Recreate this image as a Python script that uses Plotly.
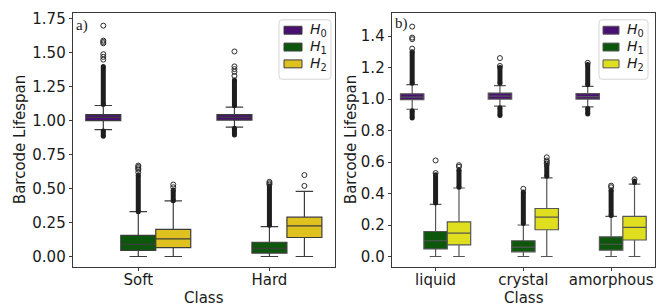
import plotly.graph_objects as go

W, H = 667, 306

# ---------------- data ----------------
series = ["H0", "H1", "H2"]
series_labels = ["<i>H</i><sub>0</sub>", "<i>H</i><sub>1</sub>", "<i>H</i><sub>2</sub>"]

# Panel a)
cats_a = ["Soft", "Hard"]
q1_a = {"H0": [1.000, 1.005], "H1": [0.045, 0.025], "H2": [0.065, 0.140]}
med_a = {"H0": [1.025, 1.025], "H1": [0.090, 0.060], "H2": [0.130, 0.225]}
q3_a = {"H0": [1.045, 1.045], "H1": [0.155, 0.105], "H2": [0.200, 0.290]}
lo_a = {"H0": [0.935, 0.953], "H1": [0.0, 0.0], "H2": [0.0, 0.0]}
hi_a = {"H0": [1.112, 1.100], "H1": [0.330, 0.220], "H2": [0.410, 0.480]}
# dense outlier bands (start, end); None = absent
dense_low_a = {"H0": [(0.885, 0.925), (0.895, 0.945)], "H1": [None, None], "H2": [None, None]}
dense_high_a = {"H0": [(1.12, 1.40), (1.11, 1.30)], "H1": [(0.33, 0.60), (0.23, 0.52)],
                "H2": [(0.41, 0.49), None]}
sparse_a = {"H0": [[1.45, 1.47, 1.49, 1.57, 1.58, 1.59, 1.70], [1.33, 1.36, 1.38, 1.40, 1.51]],
            "H1": [[0.62, 0.64, 0.65, 0.66, 0.67], [0.53, 0.54, 0.55]],
            "H2": [[0.51, 0.53], [0.52, 0.60]]}

# Panel b)
cats_b = ["liquid", "crystal", "amorphous"]
q1_b = {"H0": [0.996, 1.000, 1.000], "H1": [0.048, 0.030, 0.040], "H2": [0.074, 0.170, 0.105]}
med_b = {"H0": [1.012, 1.018, 1.015], "H1": [0.100, 0.060, 0.078], "H2": [0.149, 0.250, 0.185]}
q3_b = {"H0": [1.033, 1.038, 1.035], "H1": [0.159, 0.100, 0.125], "H2": [0.220, 0.305, 0.255]}
lo_b = {"H0": [0.935, 0.955, 0.950], "H1": [0.0, 0.0, 0.0], "H2": [0.0, 0.0, 0.0]}
hi_b = {"H0": [1.092, 1.085, 1.080], "H1": [0.331, 0.200, 0.255], "H2": [0.435, 0.500, 0.460]}
dense_low_b = {"H0": [(0.880, 0.925), (0.895, 0.945), (0.905, 0.940)],
               "H1": [None, None, None], "H2": [None, None, None]}
dense_high_b = {"H0": [(1.10, 1.30), (1.10, 1.20), (1.09, 1.22)],
                "H1": [(0.34, 0.52), (0.21, 0.41), (0.26, 0.42)],
                "H2": [(0.44, 0.55), (0.51, 0.58), (0.47, 0.48)]}
sparse_b = {"H0": [[1.32, 1.38, 1.39, 1.46], [1.21, 1.26], [1.23]],
            "H1": [[0.53, 0.61], [0.43], [0.44, 0.45]],
            "H2": [[0.57, 0.58], [0.59, 0.60, 0.61, 0.63], [0.49]]}

# ---------------- styling ----------------
colors_a = {"H0": "#491072", "H1": "#0d570d", "H2": "#dfc120"}
colors_b = {"H0": "#491072", "H1": "#0d570d", "H2": "#dfdf20"}
edge_a = "#3c3c3c"
edge_b = "#555555"
FONT = "DejaVu Sans"
TXT = "#1a1a1a"
BOXW = 0.8 / 3


def px_x(p):
    return p / W


def px_y(p):
    return (H - p) / H


fig = go.Figure()


def add_panel(cats, q1, med, q3, lo, hi, dlow, dhigh, sparse, colors, edge, xa, ya):
    lx, ly = [], []
    mx, my = [], []
    for j, s in enumerate(series):
        pos = [i + (j - 1) * BOXW for i in range(len(cats))]
        fig.add_trace(go.Box(
            x=pos, q1=q1[s], median=med[s], q3=q3[s],
            lowerfence=lo[s], upperfence=hi[s],
            orientation="v", width=BOXW, whiskerwidth=0.5,
            fillcolor=colors[s], line=dict(color=edge, width=1.2),
            boxpoints=False, showlegend=False, name=s,
            xaxis=xa, yaxis=ya, hoverinfo="skip"))
        for i in range(len(cats)):
            for band in (dlow[s][i], dhigh[s][i]):
                if band is not None:
                    lx += [pos[i], pos[i], None]
                    ly += [band[0], band[1], None]
            for v in sparse[s][i]:
                mx.append(pos[i])
                my.append(v)
    fig.add_trace(go.Scatter(x=lx, y=ly, mode="lines+markers",
                             line=dict(color="#1e1e1e", width=5),
                             marker=dict(color="#1e1e1e", size=5),
                             showlegend=False, xaxis=xa, yaxis=ya, hoverinfo="skip"))
    fig.add_trace(go.Scatter(x=mx, y=my, mode="markers",
                             marker=dict(symbol="circle-open", color="#2a2a2a", size=5,
                                         line=dict(width=1)),
                             showlegend=False, xaxis=xa, yaxis=ya, hoverinfo="skip"))


add_panel(cats_a, q1_a, med_a, q3_a, lo_a, hi_a, dense_low_a, dense_high_a, sparse_a,
          colors_a, edge_a, "x", "y")
add_panel(cats_b, q1_b, med_b, q3_b, lo_b, hi_b, dense_low_b, dense_high_b, sparse_b,
          colors_b, edge_b, "x2", "y2")

axis_common = dict(showline=True, mirror=True, linecolor="#3a3a3a", linewidth=1,
                   ticks="outside", ticklen=3, tickcolor="#3a3a3a", showgrid=False,
                   zeroline=False, tickfont=dict(family=FONT, size=15, color=TXT))

ydom = [px_y(267), px_y(10)]
fig.update_layout(
    width=W, height=H, margin=dict(l=0, r=0, t=0, b=0),
    paper_bgcolor="white", plot_bgcolor="white", showlegend=False,
    xaxis=dict(domain=[px_x(72.7), px_x(335)], range=[-0.5, len(cats_a) - 0.5],
               tickvals=list(range(len(cats_a))), ticktext=cats_a, anchor="y",
               ticklabelstandoff=-4, **axis_common),
    yaxis=dict(domain=ydom, range=[-0.08, 1.794], tickvals=[0, 0.25, 0.5, 0.75, 1.0, 1.25, 1.5, 1.75],
               tickformat=".2f", anchor="x", **axis_common),
    xaxis2=dict(domain=[px_x(391.7), px_x(655)], range=[-0.5, len(cats_b) - 0.5],
                tickvals=list(range(len(cats_b))), ticktext=cats_b, anchor="y2",
                ticklabelstandoff=-4, **axis_common),
    yaxis2=dict(domain=ydom, range=[-0.069, 1.547], tickvals=[0, 0.2, 0.4, 0.6, 0.8, 1.0, 1.2, 1.4],
                tickformat=".1f", anchor="x2", **axis_common),
)

ann = []
# axis titles
for xpx in (20, 351):
    ann.append(dict(x=px_x(xpx), y=px_y(138.5), xref="paper", yref="paper", text="Barcode Lifespan",
                    textangle=-90, xanchor="center", yanchor="middle", showarrow=False,
                    font=dict(family=FONT, size=15, color=TXT)))
for xpx in (204, 524):
    ann.append(dict(x=px_x(xpx), y=px_y(298), xref="paper", yref="paper", text="Class",
                    xanchor="center", yanchor="middle", showarrow=False,
                    font=dict(family=FONT, size=15, color=TXT)))
# panel labels
ann.append(dict(x=px_x(74), y=px_y(12), xref="paper", yref="paper", text="a)", xanchor="left",
                yanchor="top", showarrow=False, font=dict(family="Liberation Serif", size=15, color=TXT)))
ann.append(dict(x=px_x(393), y=px_y(10), xref="paper", yref="paper", text="b)", xanchor="left",
                yanchor="top", showarrow=False, font=dict(family="Liberation Serif", size=15, color=TXT)))

shapes = []


def rounded_rect(x0, y0, x1, y1, r=3):
    X0, X1 = px_x(x0), px_x(x1)
    Y0, Y1 = px_y(y0), px_y(y1)
    rx, ry = r / W, r / H
    path = (f"M{X0+rx},{Y0} L{X1-rx},{Y0} Q{X1},{Y0} {X1},{Y0-ry} "
            f"L{X1},{Y1+ry} Q{X1},{Y1} {X1-rx},{Y1} L{X0+rx},{Y1} Q{X0},{Y1} {X0},{Y1+ry} "
            f"L{X0},{Y0-ry} Q{X0},{Y0} {X0+rx},{Y0} Z")
    return dict(type="path", path=path, xref="paper", yref="paper",
                line=dict(color="#d6d6d6", width=1), fillcolor="rgba(255,255,255,0.85)", layer="above")


def add_legend(box, patch_x, text_x, ycenters, colors, edge):
    shapes.append(rounded_rect(*box))
    for j, s in enumerate(series):
        yc = ycenters[j]
        shapes.append(dict(type="rect", xref="paper", yref="paper",
                           x0=px_x(patch_x[0]), x1=px_x(patch_x[1]),
                           y0=px_y(yc + 4), y1=px_y(yc - 4),
                           fillcolor=colors[s], line=dict(color=edge, width=1), layer="above"))
        ann.append(dict(x=px_x(text_x), y=px_y(yc), xref="paper", yref="paper",
                        text=series_labels[j], xanchor="left", yanchor="middle", showarrow=False,
                        font=dict(family=FONT, size=14, color=TXT)))


add_legend((279, 17, 331, 77), (284, 302), 308, [27.5, 44.5, 61.5], colors_a, edge_a)
add_legend((599, 17, 648, 77), (603, 619), 625, [27.5, 44.5, 61.5], colors_b, edge_b)

fig.update_layout(annotations=ann, shapes=shapes)
fig.write_html("out.html", config={"displayModeBar": False},
               post_script="document.body.style.margin='0';document.body.style.overflow='hidden';")
